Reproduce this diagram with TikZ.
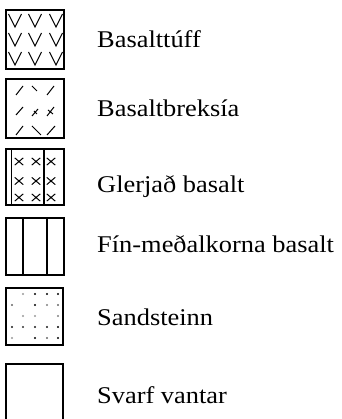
\documentclass[tikz,border=0pt]{standalone}
\usepackage{fontspec}
\setmainfont{Liberation Serif}[FakeStretch=1.1]
\begin{document}
\begin{tikzpicture}[x=1pt,y=-1pt,
  legendbox/.style={line width=1.6pt},
  inner/.style={line width=1.2pt},
  hatch/.style={line width=1.0pt},
  lbl/.style={anchor=base west,inner sep=0pt,font=\fontsize{24}{28}\selectfont}]
\useasboundingbox (0,0) rectangle (341,419);

% Basalttuff: grid of V marks
\draw[legendbox] (6,10) rectangle (64,69);
\foreach \cx in {15,35,56}
  \foreach \ty in {14,33,52}
    \draw[hatch] (\cx-6.5,\ty) -- (\cx,\ty+13) -- (\cx+6.5,\ty);
\node[lbl] (t1) at (97,48) {Basalttúff};

% Basaltbreksia: scattered short strokes
\draw[legendbox] (6,79) rectangle (64,138);
\draw[hatch] (16,95) -- (23,86);
\draw[hatch] (32,86) -- (37,91);
\draw[hatch] (47,95) -- (54,86);
\draw[hatch] (16,115) -- (23,107);
\draw[hatch] (32,116) -- (38,109) (34,111) -- (37,114);
\draw[hatch] (47,116) -- (54,107) (48,110) -- (53,114);
\draw[hatch] (16,135) -- (23,126);
\draw[hatch] (32,126) -- (41,135);
\draw[hatch] (47,135) -- (55,126);
\node[lbl] (t2) at (97,117) {Basaltbreksía};

% Glerjad basalt: two inner lines and crosses
\draw[legendbox] (6,149) rectangle (64,205);
\draw[inner] (11.7,149) -- (11.7,205);
\draw[inner] (44,149) -- (44,205);
\foreach \cx in {19,36,51}
  \foreach \cy in {161.5,181,197.5}
    \draw[hatch] (\cx-4.2,\cy-3.6) -- (\cx+4.2,\cy+3.6) (\cx-4.2,\cy+3.6) -- (\cx+4.2,\cy-3.6);
\node[lbl] (t3) at (97,193) {Glerjað basalt};

% Fin-medalkorna basalt: three columns
\draw[legendbox] (6,218) rectangle (64,275);
\draw[inner] (23,218) -- (23,275);
\draw[inner] (47,218) -- (47,275);
\node[lbl] (t4) at (97,252) {Fín-meðalkorna basalt};

% Sandsteinn: sparse dots
\draw[line width=1.3pt] (6,288) rectangle (63,345);
\foreach \x/\y/\g in {23/294/40,35/294/100,47/294/100,58/294/100,
                      12/305/60,35/305/100,47/305/50,58/305/60,
                      23/316/40,35/316/40,58/316/50,
                      12/327/90,23/327/80,35/327/90,47/327/90,58/327/100,
                      12/338/40,35/338/100,47/338/60,58/338/100}
  \fill[black!\g] (\x,\y) circle (1.1);
\node[lbl] (t5) at (97,325) {Sandsteinn};

% Svarf vantar: empty box, running off the lower edge
\draw[legendbox] (6,422) -- (6,364) -- (63,364) -- (63,422);
\node[lbl] (t6) at (97,403) {Svarf vantar};
\end{tikzpicture}
\end{document}
